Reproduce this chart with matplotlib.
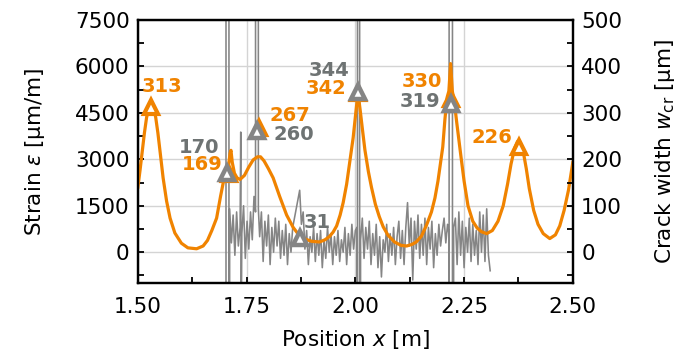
import numpy as np
import matplotlib
matplotlib.use("Agg")
import matplotlib.pyplot as plt
from matplotlib.ticker import MultipleLocator

# ---------------- data ----------------
# orange strain curve (left axis, µm/m)
strain_x = [1.500, 1.505, 1.510, 1.515, 1.520, 1.526, 1.531, 1.536, 1.541, 1.546,
            1.551, 1.558, 1.566, 1.574, 1.585, 1.600, 1.615, 1.635, 1.650, 1.660,
            1.670, 1.681, 1.690, 1.697, 1.703, 1.708, 1.712, 1.714, 1.717, 1.722,
            1.728, 1.735, 1.745, 1.755, 1.765, 1.775, 1.782, 1.790, 1.800, 1.811,
            1.826, 1.842, 1.857, 1.870, 1.885, 1.900, 1.918, 1.930, 1.940, 1.949,
            1.957, 1.965, 1.972, 1.980, 1.988, 1.995, 2.001, 2.006, 2.011, 2.016,
            2.022, 2.030, 2.037, 2.046, 2.055, 2.064, 2.075, 2.090, 2.105, 2.118,
            2.130, 2.140, 2.152, 2.163, 2.175, 2.183, 2.190, 2.196, 2.201, 2.206,
            2.211, 2.215, 2.219, 2.223, 2.228, 2.233, 2.242, 2.250, 2.259, 2.270,
            2.280, 2.290, 2.302, 2.315, 2.328, 2.340, 2.350, 2.358, 2.366, 2.373,
            2.379, 2.386, 2.393, 2.400, 2.410, 2.420, 2.432, 2.447, 2.460, 2.470,
            2.480, 2.490, 2.500]
strain_y = [2100, 2650, 3250, 3850, 4350, 4700, 4830, 4700, 4350, 3850,
            3250, 2400, 1650, 1100, 620, 290, 140, 110, 200, 380,
            700, 1100, 1800, 2300, 2550, 2750, 3200, 3290, 2900, 2550,
            2400, 2350, 2480, 2750, 2980, 3080, 3080, 2950, 2700, 2400,
            1800, 1200, 800, 560, 420, 350, 330, 400, 500, 650,
            850, 1200, 1600, 2200, 3000, 3700, 4500, 5150, 4600, 4000,
            3300, 2600, 2100, 1550, 1150, 820, 550, 330, 220, 200,
            250, 330, 520, 850, 1300, 1750, 2300, 2900, 3400, 4300,
            5000, 5200, 6090, 5200, 4800, 4200, 3180, 2300, 1500, 1000,
            780, 660, 600, 700, 1000, 1500, 2200, 2850, 3350, 3580,
            3550, 3250, 2700, 2050, 1350, 900, 600, 440, 560, 850,
            1350, 2000, 2900]

# grey measured strain (left axis), cracks shoot off-scale
BIG = 1e5
grey_x = [1.7025, 1.7027, 1.7093, 1.7095, 1.711, 1.715, 1.719, 1.723, 1.727, 1.731,
          1.735, 1.7365, 1.7375, 1.739, 1.743, 1.747, 1.751, 1.755, 1.759, 1.763,
          1.767, 1.7705, 1.7708, 1.7765, 1.777, 1.780, 1.784, 1.788, 1.792, 1.796,
          1.800, 1.804, 1.808, 1.812, 1.816, 1.820, 1.824, 1.828, 1.832, 1.836,
          1.840, 1.844, 1.848, 1.852, 1.856, 1.860, 1.864, 1.868, 1.872, 1.876,
          1.880, 1.884, 1.888, 1.892, 1.896, 1.900, 1.904, 1.908, 1.912, 1.916,
          1.920, 1.924, 1.928, 1.932, 1.936, 1.940, 1.944, 1.948, 1.952, 1.956,
          1.960, 1.964, 1.968, 1.972, 1.976, 1.980, 1.984, 1.988, 1.992, 1.996,
          2.000, 2.0035, 2.0048, 2.0050, 2.0098, 2.0100, 2.012, 2.016, 2.020, 2.024,
          2.028, 2.032, 2.036, 2.040, 2.044, 2.048, 2.052, 2.056, 2.060, 2.064,
          2.068, 2.072, 2.076, 2.080, 2.084, 2.088, 2.092, 2.096, 2.100, 2.104,
          2.108, 2.112, 2.116, 2.120, 2.124, 2.128, 2.132, 2.136, 2.140, 2.144,
          2.148, 2.152, 2.156, 2.160, 2.164, 2.168, 2.172, 2.176, 2.180, 2.184,
          2.188, 2.192, 2.196, 2.200, 2.204, 2.208, 2.212, 2.2150, 2.2155, 2.2157,
          2.2232, 2.2234, 2.226, 2.230, 2.234, 2.238, 2.242, 2.246, 2.250, 2.254,
          2.258, 2.262, 2.266, 2.270, 2.274, 2.278, 2.282, 2.286, 2.290, 2.294,
          2.298, 2.302, 2.306, 2.310]
grey_y = [-BIG, BIG, BIG, -BIG, 1400, 300, 1200, -100, 1300, 200,
          800, 3880, -3000, 600, 1500, -200, 1000, 100, 1300, 400,
          1800, 1300, BIG, BIG, 1400, 500, 1300, -300, 1000, 200,
          1200, -400, 800, 0, 1100, 200, 1000, -200, 700, -100,
          900, -400, 600, 0, 800, 1100, 1400, 1700, 2000, 900,
          1300, 100, 700, -400, 500, 0, 800, -300, 600, -100,
          700, -500, 400, -200, 800, 0, 600, -400, 500, -100,
          700, -300, 400, 0, 800, -400, 600, -100, 900, 100,
          700, 800, -BIG, BIG, BIG, -BIG, 400, 1100, -200, 800,
          100, 1000, -400, 600, -100, 900, -500, 500, -800, 400,
          0, 900, -300, 600, -100, 800, -400, 500, 1000, -200,
          700, -400, 800, 1600, 200, 1100, -900, 1000, 100, 1200,
          -200, 900, -100, 1100, -400, 800, 100, 1000, -500, 600,
          -100, 900, 200, 700, 1100, 300, 900, 600, -BIG, BIG,
          BIG, -BIG, 800, 1100, -400, 1300, -100, 1000, -500, 800,
          0, 1100, -300, 900, -100, 700, -400, 1300, 0, 1200,
          -300, 1400, -100, -600]

# crack widths (right axis, µm)
orange_cx = [1.531, 1.709, 1.779, 2.006, 2.219, 2.376]
orange_w = [313, 169, 267, 342, 330, 226]
grey_cx = [1.704, 1.775, 1.872, 2.006, 2.219]
grey_w = [170, 260, 31, 344, 319]

# label offsets in points (dx, dy)
orange_off = [(7.9, 10.8), (-19, 2.4), (22, 5), (-23, -0.7), (-20.7, 8.3), (-19.4, 2.9)]
grey_off = [(-19.9, 14.4), (26.2, -6.5), (12.7, 6.9), (-20.9, 11.5), (-22.2, -2.2)]

xticks = [1.50, 1.75, 2.00, 2.25, 2.50]
yticks_left = [0, 1500, 3000, 4500, 6000, 7500]
yticks_right = [0, 100, 200, 300, 400, 500]

ORANGE = "#f08300"
GREY = "#858585"
GREY_TXT = "#6e7373"

plt.rcParams['font.family'] = ['DejaVu Sans']
plt.rcParams['mathtext.fontset'] = 'dejavusans'

fig = plt.figure(figsize=(6.86, 3.5), dpi=100)
ax = fig.add_axes([0.201, 0.191, 0.634, 0.752])
ax2 = ax.twinx()

ax.plot(grey_x, grey_y, color=GREY, lw=1.15, zorder=2)
ax.plot(strain_x, strain_y, color=ORANGE, lw=2.3, zorder=3, solid_joinstyle='round')

ax.set_xlim(1.5, 2.5)
ax.set_ylim(-1000, 7500)
ax2.set_ylim(-1000 / 15, 500)

ax.set_xticks(xticks)
ax.set_xticklabels([f"{t:.2f}" for t in xticks])
ax.xaxis.set_minor_locator(MultipleLocator(0.125))
ax.set_yticks(yticks_left)
ax.yaxis.set_minor_locator(MultipleLocator(750))
ax2.set_yticks(yticks_right)
ax2.yaxis.set_minor_locator(MultipleLocator(50))

ax.grid(True, which='major', color='#d4d4d4', lw=1.0, zorder=0)
ax.set_axisbelow(True)

for a in (ax, ax2):
    for s in a.spines.values():
        s.set_linewidth(1.6)
        s.set_color('black')
ax.tick_params(axis='both', which='both', direction='in', labelsize=15.5, width=1.3, top=False, right=False)
ax.tick_params(which='major', length=4.5)
ax.tick_params(which='minor', length=4)
ax.tick_params(axis='x', pad=10)
ax.tick_params(axis='y', pad=6)
ax2.tick_params(axis='y', which='both', direction='in', labelsize=15.5, width=1.3, pad=6)
ax2.tick_params(which='major', length=4.5)
ax2.tick_params(which='minor', length=4)

ax.set_xlabel("Position $x$ [m]", fontsize=15.5, labelpad=8)
ax.set_ylabel("Strain $\\varepsilon$ [µm/m]", fontsize=15.5, labelpad=20)
ax2.set_ylabel("Crack width $w_\\mathrm{cr}$ [µm]", fontsize=15.5, labelpad=22)

ax2.plot(orange_cx, orange_w, ls='none', marker='^', ms=10, mfc='white', mec=ORANGE, mew=3.0, zorder=4)
ax2.plot(grey_cx, grey_w, ls='none', marker='^', ms=10, mfc='white', mec=GREY, mew=3.2, zorder=5)

for x, w, (dx, dy) in zip(orange_cx, orange_w, orange_off):
    ax2.annotate(str(w), xy=(x, w), xytext=(dx, dy), textcoords='offset points',
                 ha='center', va='baseline', fontsize=14, fontweight='bold', color=ORANGE, zorder=6)
for x, w, (dx, dy) in zip(grey_cx, grey_w, grey_off):
    ax2.annotate(str(w), xy=(x, w), xytext=(dx, dy), textcoords='offset points',
                 ha='center', va='baseline', fontsize=14, fontweight='bold', color=GREY_TXT, zorder=6)

fig.savefig("out.png", dpi=100)
